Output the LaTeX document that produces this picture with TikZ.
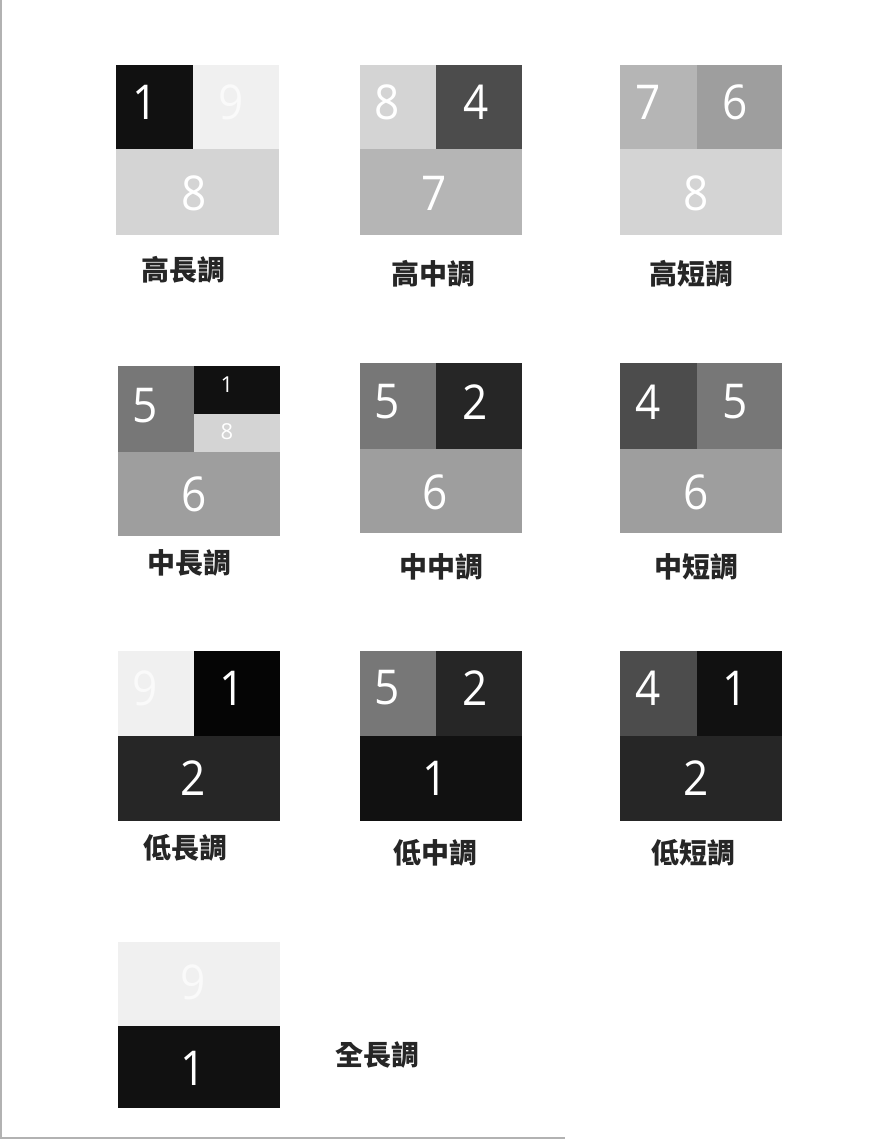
\documentclass[tikz,border=0pt]{standalone}
\usepackage{fontspec}
\setmainfont{Open Sans}
\newfontfamily\cjk{Noto Sans CJK TC}
\definecolor{g1}{HTML}{111111}
\definecolor{g1b}{HTML}{050505}
\definecolor{g2}{HTML}{262626}
\definecolor{g4}{HTML}{4C4C4C}
\definecolor{g5}{HTML}{777777}
\definecolor{g6}{HTML}{9E9E9E}
\definecolor{g7}{HTML}{B5B5B5}
\definecolor{g8}{HTML}{D4D4D4}
\definecolor{g9}{HTML}{F0F0F0}
\definecolor{lt9}{HTML}{FAFAFA}
\begin{document}
\begin{tikzpicture}[x=1pt,y=-1pt,
  dig/.style={text=white,font=\fontsize{48}{48}\selectfont,inner sep=0pt,xscale=0.92},
  sdig/.style={text=white,font=\fontsize{22}{22}\selectfont,inner sep=0pt},
  lab/.style={font=\cjk\bfseries\fontsize{28}{28}\selectfont,inner sep=0pt,text=black!85},
  edge/.style={draw=black!30,line width=1.5pt}]
\useasboundingbox (0,0) rectangle (882,1140);
\fill[white] (0,0) rectangle (882,1140);
\coordinate (tl) at (1,0);
\coordinate (bl) at (1,1138);
\coordinate (br) at (565,1138);
\draw[edge] (tl) -- (bl) -- (br);
% Box 1
\fill[g8] (116,149) rectangle (279,235);
\fill[g1] (116,65) rectangle (193,149);
\fill[g9] (193,65) rectangle (279,149);
\node[dig] (b1a) at (145,102) {1};
\node[dig,text=lt9] (b1b) at (231,102) {9};
\node[dig] (b1c) at (194,193) {8};
\node[lab] (l1) at (183,270) {高長調};
% Box 2
\fill[g7] (360,149) rectangle (522,235);
\fill[g8] (360,65) rectangle (436,149);
\fill[g4] (436,65) rectangle (522,149);
\node[dig] (b2a) at (387,102) {8};
\node[dig] (b2b) at (476,102) {4};
\node[dig] (b2c) at (434,193) {7};
\node[lab] (l2) at (433,274) {高中調};
% Box 3
\fill[g8] (620,149) rectangle (782,235);
\fill[g7] (620,65) rectangle (697,149);
\fill[g6] (697,65) rectangle (782,149);
\node[dig] (b3a) at (648,102) {7};
\node[dig] (b3b) at (735,102) {6};
\node[dig] (b3c) at (696,193) {8};
\node[lab] (l3) at (691,274) {高短調};
% Box 4
\fill[g6] (118,452) rectangle (280,536);
\fill[g5] (118,366) rectangle (194,452);
\fill[g1] (194,366) rectangle (280,414);
\fill[g8] (194,414) rectangle (280,452);
\node[dig] (b4a) at (145,406) {5};
\node[sdig] (b4b) at (227,385) {1};
\node[sdig] (b4c) at (227,432) {8};
\node[dig] (b4d) at (194,494) {6};
\node[lab] (l4) at (189,563) {中長調};
% Box 5
\fill[g6] (360,449) rectangle (522,533);
\fill[g5] (360,363) rectangle (436,449);
\fill[g2] (436,363) rectangle (522,449);
\node[dig] (b5a) at (387,402) {5};
\node[dig] (b5b) at (475,402) {2};
\node[dig] (b5c) at (435,492) {6};
\node[lab] (l5) at (441,567) {中中調};
% Box 6
\fill[g6] (620,449) rectangle (782,533);
\fill[g4] (620,363) rectangle (697,449);
\fill[g5] (697,363) rectangle (782,449);
\node[dig] (b6a) at (648,402) {4};
\node[dig] (b6b) at (735,402) {5};
\node[dig] (b6c) at (696,492) {6};
\node[lab] (l6) at (696,567) {中短調};
% Box 7
\fill[g2] (118,736) rectangle (280,821);
\fill[g9] (118,651) rectangle (194,736);
\fill[g1b] (194,651) rectangle (280,736);
\node[dig,text=lt9] (b7a) at (145,688) {9};
\node[dig] (b7b) at (232,688) {1};
\node[dig] (b7c) at (193,778) {2};
\node[lab] (l7) at (185,848) {低長調};
% Box 8
\fill[g1] (360,736) rectangle (522,821);
\fill[g5] (360,651) rectangle (436,736);
\fill[g2] (436,651) rectangle (522,736);
\node[dig] (b8a) at (387,688) {5};
\node[dig] (b8b) at (475,688) {2};
\node[dig] (b8c) at (435,778) {1};
\node[lab] (l8) at (435,853) {低中調};
% Box 9
\fill[g2] (620,736) rectangle (782,821);
\fill[g4] (620,651) rectangle (697,736);
\fill[g1] (697,651) rectangle (782,736);
\node[dig] (b9a) at (648,688) {4};
\node[dig] (b9b) at (735,688) {1};
\node[dig] (b9c) at (696,778) {2};
\node[lab] (l9) at (693,853) {低短調};
% Box 10
\fill[g9] (118,942) rectangle (280,1026);
\fill[g1] (118,1026) rectangle (280,1108);
\node[dig,text=lt9] (b10a) at (193,982) {9};
\node[dig] (b10b) at (193,1068) {1};
\node[lab] (l10) at (377,1055) {全長調};
\end{tikzpicture}
\end{document}
